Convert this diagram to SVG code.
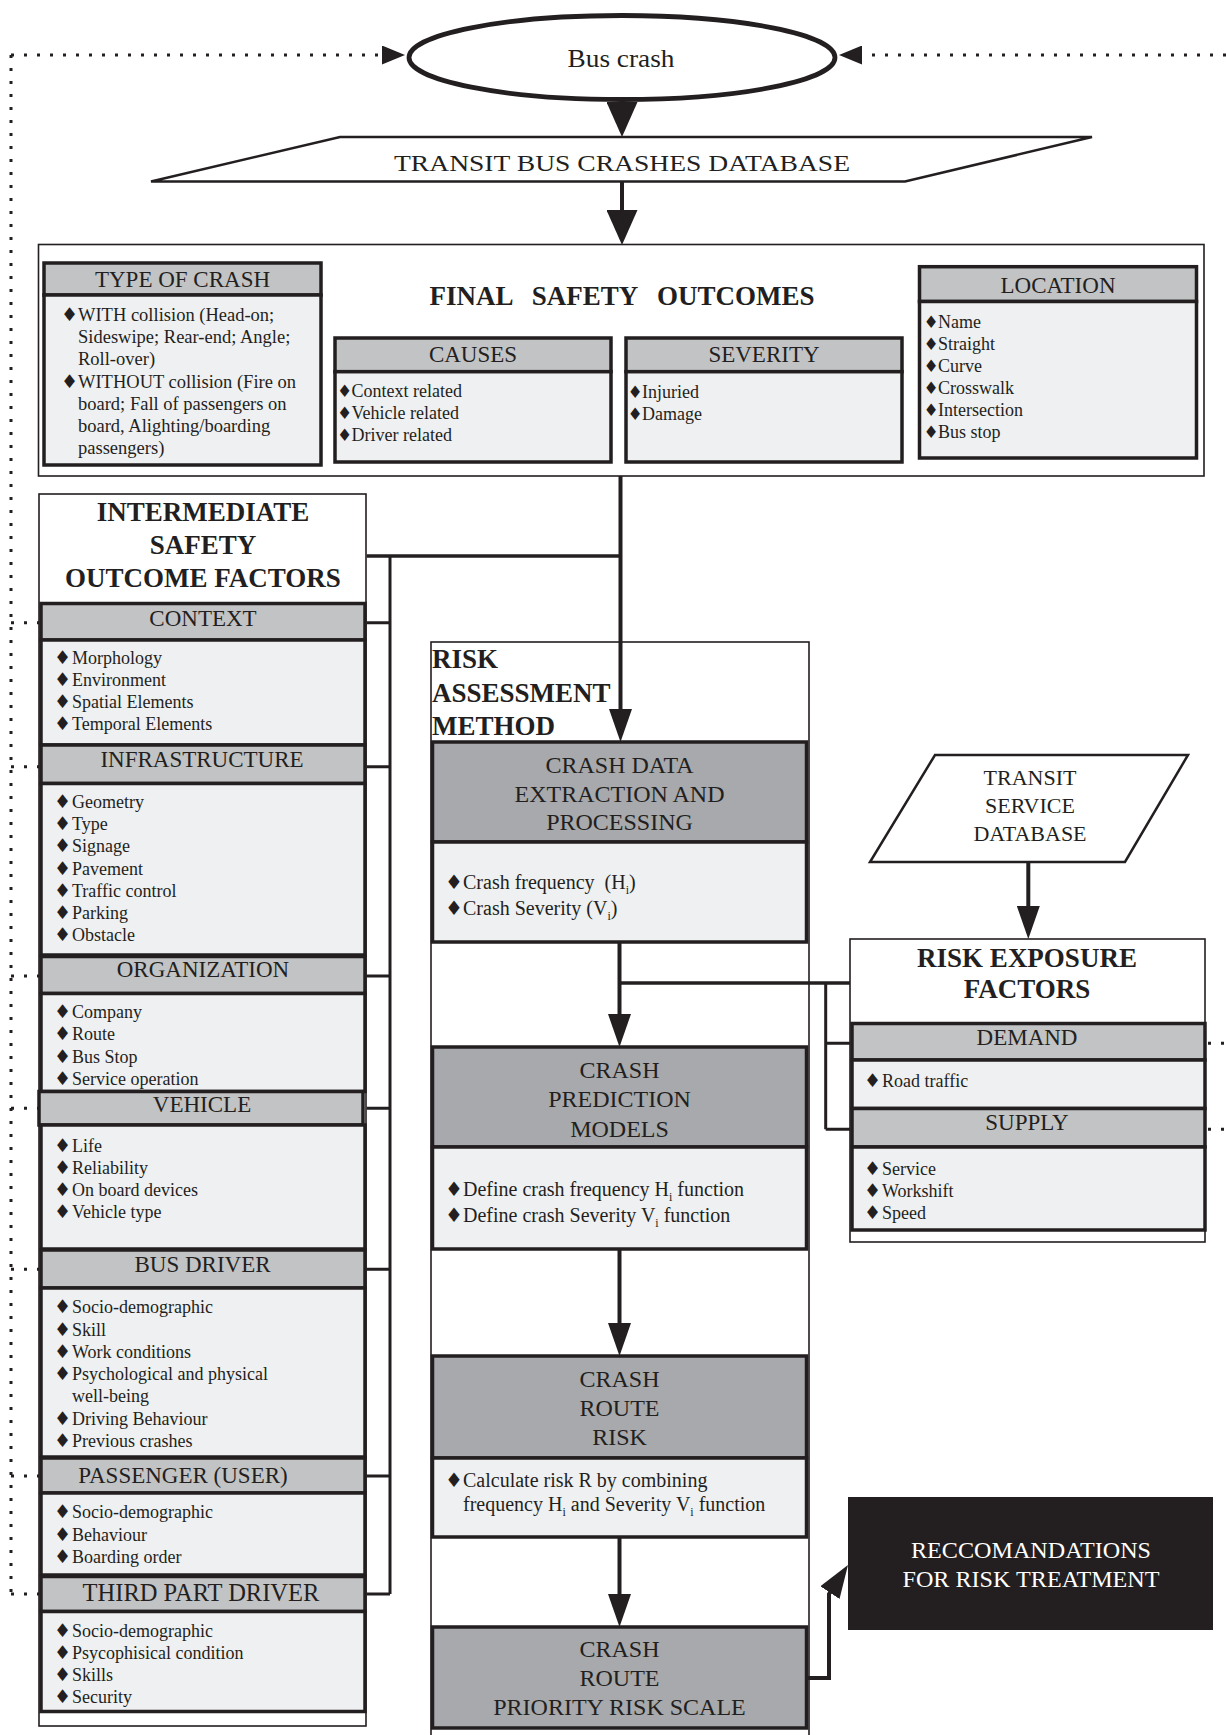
<svg xmlns="http://www.w3.org/2000/svg" width="1226" height="1735" viewBox="0 0 1226 1735">
<defs>
<style>
text{font-family:"Liberation Serif","DejaVu Serif",serif;fill:#231f20}
.ct{fill:#fff;stroke:#231f20;stroke-width:1.6}
.hd{fill:#c2c3c5;stroke:#231f20;stroke-width:3.5}
.bd{fill:#eff0f2;stroke:#231f20;stroke-width:3.5}
.dk{fill:#a7a9ac;stroke:#231f20;stroke-width:3.5}
.h{font-size:23px;text-anchor:middle}
.it{font-size:18px}
.tc{font-size:18.5px}
.dm{font-family:"DejaVu Sans",sans-serif;font-size:19px}
.dn{font-family:"DejaVu Sans",sans-serif;font-size:17px}
.sp{font-size:3px}
.ti{font-size:27px;font-weight:bold;text-anchor:middle}
.tl{font-size:27px;font-weight:bold}
.m{font-size:24px;text-anchor:middle}
.rb{font-size:20px}
.ln{fill:none;stroke:#231f20;stroke-width:4}
.br{fill:none;stroke:#231f20;stroke-width:3}
.dot{fill:none;stroke:#231f20;stroke-width:3;stroke-dasharray:3 10}
</style>
<marker id="big" markerUnits="userSpaceOnUse" viewBox="0 0 35 31" refX="27" refY="15.5" markerWidth="35" markerHeight="31" orient="auto"><path d="M0,0L35,15.5L0,31z" fill="#231f20"/></marker>
<marker id="std" markerUnits="userSpaceOnUse" viewBox="0 0 33 23" refX="25" refY="11.5" markerWidth="33" markerHeight="23" orient="auto"><path d="M0,0L33,11.5L0,23z" fill="#231f20"/></marker>
<marker id="sm" markerUnits="userSpaceOnUse" viewBox="0 0 23 19" refX="17" refY="9.5" markerWidth="23" markerHeight="19" orient="auto"><path d="M0,0L23,9.5L0,19z" fill="#231f20"/></marker>
</defs>
<rect width="1226" height="1735" fill="#fff"/>

<g id="bus-crash">
<ellipse cx="622" cy="57.5" rx="213" ry="42" fill="#fff" stroke="#231f20" stroke-width="4.8"/>
<text x="621" y="66.5" font-size="25" text-anchor="middle" textLength="107" lengthAdjust="spacingAndGlyphs">Bus crash</text>
</g>

<g id="transit-bus-crashes-database">
<polygon points="340,137 1092,137 905,181.5 151,181.5" fill="#fff" stroke="#231f20" stroke-width="2.5"/>
<text x="622" y="171" font-size="24" text-anchor="middle" textLength="456" lengthAdjust="spacingAndGlyphs">TRANSIT BUS CRASHES DATABASE</text>
</g>

<g id="final-safety-outcomes">
<rect class="ct" x="38.5" y="244.5" width="1165.5" height="231.5"/>
<text x="622" y="305" font-size="27" font-weight="bold" text-anchor="middle" word-spacing="13">FINAL SAFETY OUTCOMES</text>
<g id="type-of-crash">
<rect class="hd" x="44" y="263" width="277" height="32"/>
<rect class="bd" x="44" y="295" width="277" height="170"/>
<text class="h" x="182.5" y="287">TYPE OF CRASH</text>
<text class="tc" x="61" y="321"><tspan class="dm">♦</tspan><tspan class="sp"> </tspan><tspan x="78">WITH collision (Head-on;</tspan></text>
<text class="tc" x="78" y="343">Sideswipe; Rear-end; Angle;</text>
<text class="tc" x="78" y="365">Roll-over)</text>
<text class="tc" x="61" y="387.5"><tspan class="dm">♦</tspan><tspan class="sp"> </tspan><tspan x="78">WITHOUT collision (Fire on</tspan></text>
<text class="tc" x="78" y="410">board; Fall of passengers on</text>
<text class="tc" x="78" y="432">board, Alighting/boarding</text>
<text class="tc" x="78" y="454">passengers)</text>
</g>
<g id="causes">
<rect class="hd" x="335" y="338" width="276" height="33.7"/>
<rect class="bd" x="335" y="371.7" width="276" height="90.3"/>
<text class="h" x="473" y="362">CAUSES</text>
<text class="it" x="337" y="397"><tspan class="dn">♦</tspan><tspan x="351.5">Context related</tspan></text>
<text class="it" x="337" y="419"><tspan class="dn">♦</tspan><tspan x="351.5">Vehicle related</tspan></text>
<text class="it" x="337" y="441"><tspan class="dn">♦</tspan><tspan x="351.5">Driver related</tspan></text>
</g>
<g id="severity">
<rect class="hd" x="626" y="338" width="276" height="33.7"/>
<rect class="bd" x="626" y="371.7" width="276" height="90.3"/>
<text class="h" x="764" y="362">SEVERITY</text>
<text class="it" x="627.5" y="398"><tspan class="dn">♦</tspan><tspan x="642">Injuried</tspan></text>
<text class="it" x="627.5" y="420"><tspan class="dn">♦</tspan><tspan x="642">Damage</tspan></text>
</g>
<g id="location">
<rect class="hd" x="919.5" y="266.7" width="277" height="34.8"/>
<rect class="bd" x="919.5" y="301.5" width="277" height="156.5"/>
<text class="h" x="1058" y="293">LOCATION</text>
<text class="it" x="923.5" y="328"><tspan class="dn">♦</tspan><tspan x="938">Name</tspan></text>
<text class="it" x="923.5" y="350"><tspan class="dn">♦</tspan><tspan x="938">Straight</tspan></text>
<text class="it" x="923.5" y="372"><tspan class="dn">♦</tspan><tspan x="938">Curve</tspan></text>
<text class="it" x="923.5" y="394"><tspan class="dn">♦</tspan><tspan x="938">Crosswalk</tspan></text>
<text class="it" x="923.5" y="416"><tspan class="dn">♦</tspan><tspan x="938">Intersection</tspan></text>
<text class="it" x="923.5" y="438"><tspan class="dn">♦</tspan><tspan x="938">Bus stop</tspan></text>
</g>
</g>

<g id="intermediate-safety-outcome-factors">
<rect class="ct" x="39" y="494" width="327" height="1232"/>
<text class="ti" x="203" y="521">INTERMEDIATE</text>
<text class="ti" x="203" y="554">SAFETY</text>
<text class="ti" x="203" y="587">OUTCOME FACTORS</text>
<g id="context">
<rect class="hd" x="41" y="603.5" width="324" height="36.5"/>
<rect class="bd" x="41" y="640" width="324" height="105"/>
<text class="h" x="203" y="626">CONTEXT</text>
<text class="it" x="54" y="664"><tspan class="dm">♦</tspan><tspan class="sp"> </tspan><tspan x="72">Morphology</tspan></text>
<text class="it" x="54" y="686"><tspan class="dm">♦</tspan><tspan class="sp"> </tspan><tspan x="72">Environment</tspan></text>
<text class="it" x="54" y="708"><tspan class="dm">♦</tspan><tspan class="sp"> </tspan><tspan x="72">Spatial Elements</tspan></text>
<text class="it" x="54" y="730"><tspan class="dm">♦</tspan><tspan class="sp"> </tspan><tspan x="72">Temporal Elements</tspan></text>
</g>
<g id="infrastructure">
<rect class="hd" x="41" y="745" width="324" height="38.5"/>
<rect class="bd" x="41" y="783.5" width="324" height="171.5"/>
<text class="h" x="202" y="767">INFRASTRUCTURE</text>
<text class="it" x="54" y="808"><tspan class="dm">♦</tspan><tspan class="sp"> </tspan><tspan x="72">Geometry</tspan></text>
<text class="it" x="54" y="830"><tspan class="dm">♦</tspan><tspan class="sp"> </tspan><tspan x="72">Type</tspan></text>
<text class="it" x="54" y="852"><tspan class="dm">♦</tspan><tspan class="sp"> </tspan><tspan x="72">Signage</tspan></text>
<text class="it" x="54" y="874.5"><tspan class="dm">♦</tspan><tspan class="sp"> </tspan><tspan x="72">Pavement</tspan></text>
<text class="it" x="54" y="897"><tspan class="dm">♦</tspan><tspan class="sp"> </tspan><tspan x="72">Traffic control</tspan></text>
<text class="it" x="54" y="919"><tspan class="dm">♦</tspan><tspan class="sp"> </tspan><tspan x="72">Parking</tspan></text>
<text class="it" x="54" y="941"><tspan class="dm">♦</tspan><tspan class="sp"> </tspan><tspan x="72">Obstacle</tspan></text>
</g>
<g id="organization">
<rect class="hd" x="41" y="956.5" width="324" height="37"/>
<rect class="bd" x="41" y="993.5" width="324" height="98"/>
<text class="h" x="203" y="977">ORGANIZATION</text>
<text class="it" x="54" y="1018"><tspan class="dm">♦</tspan><tspan class="sp"> </tspan><tspan x="72">Company</tspan></text>
<text class="it" x="54" y="1040"><tspan class="dm">♦</tspan><tspan class="sp"> </tspan><tspan x="72">Route</tspan></text>
<text class="it" x="54" y="1062.5"><tspan class="dm">♦</tspan><tspan class="sp"> </tspan><tspan x="72">Bus Stop</tspan></text>
<text class="it" x="54" y="1085"><tspan class="dm">♦</tspan><tspan class="sp"> </tspan><tspan x="72">Service operation</tspan></text>
</g>
<g id="vehicle">
<rect class="hd" x="39" y="1091.5" width="324" height="33.5"/>
<rect class="bd" x="41" y="1125" width="324" height="124"/>
<text class="h" x="202" y="1112">VEHICLE</text>
<text class="it" x="54" y="1152"><tspan class="dm">♦</tspan><tspan class="sp"> </tspan><tspan x="72">Life</tspan></text>
<text class="it" x="54" y="1174"><tspan class="dm">♦</tspan><tspan class="sp"> </tspan><tspan x="72">Reliability</tspan></text>
<text class="it" x="54" y="1196"><tspan class="dm">♦</tspan><tspan class="sp"> </tspan><tspan x="72">On board devices</tspan></text>
<text class="it" x="54" y="1218"><tspan class="dm">♦</tspan><tspan class="sp"> </tspan><tspan x="72">Vehicle type</tspan></text>
</g>
<g id="bus-driver">
<rect class="hd" x="41" y="1250" width="324" height="38"/>
<rect class="bd" x="41" y="1288" width="324" height="169"/>
<text class="h" x="202.5" y="1272">BUS DRIVER</text>
<text class="it" x="54" y="1313"><tspan class="dm">♦</tspan><tspan class="sp"> </tspan><tspan x="72">Socio-demographic</tspan></text>
<text class="it" x="54" y="1335.5"><tspan class="dm">♦</tspan><tspan class="sp"> </tspan><tspan x="72">Skill</tspan></text>
<text class="it" x="54" y="1357.5"><tspan class="dm">♦</tspan><tspan class="sp"> </tspan><tspan x="72">Work conditions</tspan></text>
<text class="it" x="54" y="1380"><tspan class="dm">♦</tspan><tspan class="sp"> </tspan><tspan x="72">Psychological and physical</tspan></text>
<text class="it" x="72" y="1402">well-being</text>
<text class="it" x="54" y="1424.5"><tspan class="dm">♦</tspan><tspan class="sp"> </tspan><tspan x="72">Driving Behaviour</tspan></text>
<text class="it" x="54" y="1446.5"><tspan class="dm">♦</tspan><tspan class="sp"> </tspan><tspan x="72">Previous crashes</tspan></text>
</g>
<g id="passenger-user">
<rect class="hd" x="41" y="1458" width="324" height="35"/>
<rect class="bd" x="41" y="1493" width="324" height="82"/>
<text class="h" x="183" y="1483">PASSENGER (USER)</text>
<text class="it" x="54" y="1518"><tspan class="dm">♦</tspan><tspan class="sp"> </tspan><tspan x="72">Socio-demographic</tspan></text>
<text class="it" x="54" y="1540.5"><tspan class="dm">♦</tspan><tspan class="sp"> </tspan><tspan x="72">Behaviour</tspan></text>
<text class="it" x="54" y="1562.5"><tspan class="dm">♦</tspan><tspan class="sp"> </tspan><tspan x="72">Boarding order</tspan></text>
</g>
<g id="third-part-driver">
<rect class="hd" x="41" y="1576.5" width="324" height="35"/>
<rect class="bd" x="41" y="1611.5" width="324" height="100"/>
<text x="201" y="1601" font-size="24.5" text-anchor="middle">THIRD PART DRIVER</text>
<text class="it" x="54" y="1637"><tspan class="dm">♦</tspan><tspan class="sp"> </tspan><tspan x="72">Socio-demographic</tspan></text>
<text class="it" x="54" y="1659"><tspan class="dm">♦</tspan><tspan class="sp"> </tspan><tspan x="72">Psycophisical condition</tspan></text>
<text class="it" x="54" y="1681"><tspan class="dm">♦</tspan><tspan class="sp"> </tspan><tspan x="72">Skills</tspan></text>
<text class="it" x="54" y="1703"><tspan class="dm">♦</tspan><tspan class="sp"> </tspan><tspan x="72">Security</tspan></text>
</g>
</g>

<g id="risk-assessment-method">
<rect class="ct" x="431" y="642" width="378" height="1110"/>
<text class="tl" x="432" y="668">RISK</text>
<text class="tl" x="432" y="701.5">ASSESSMENT</text>
<text class="tl" x="432" y="734.5">METHOD</text>
<g id="crash-data-extraction">
<rect class="dk" x="432.5" y="742" width="374" height="100"/>
<rect class="bd" x="432.5" y="842" width="374" height="100"/>
<text class="m" x="619.5" y="773">CRASH DATA</text>
<text class="m" x="619.5" y="802">EXTRACTION AND</text>
<text class="m" x="619.5" y="830">PROCESSING</text>
<text class="rb" x="445" y="889"><tspan class="dm" style="font-size:20px">♦</tspan><tspan class="sp"> </tspan><tspan x="463">Crash frequency&#160; (H</tspan><tspan font-size="12" dy="5">i</tspan><tspan dy="-5">)</tspan></text>
<text class="rb" x="445" y="915"><tspan class="dm" style="font-size:20px">♦</tspan><tspan class="sp"> </tspan><tspan x="463">Crash Severity (V</tspan><tspan font-size="12" dy="5">i</tspan><tspan dy="-5">)</tspan></text>
</g>
<g id="crash-prediction-models">
<rect class="dk" x="432.5" y="1047" width="374" height="100"/>
<rect class="bd" x="432.5" y="1147" width="374" height="102"/>
<text class="m" x="619.5" y="1078">CRASH</text>
<text class="m" x="619.5" y="1107">PREDICTION</text>
<text class="m" x="619.5" y="1137">MODELS</text>
<text class="rb" x="445" y="1196"><tspan class="dm" style="font-size:20px">♦</tspan><tspan class="sp"> </tspan><tspan x="463">Define crash frequency H</tspan><tspan font-size="12" dy="5">i</tspan><tspan dy="-5"> function</tspan></text>
<text class="rb" x="445" y="1222"><tspan class="dm" style="font-size:20px">♦</tspan><tspan class="sp"> </tspan><tspan x="463">Define crash Severity V</tspan><tspan font-size="12" dy="5">i</tspan><tspan dy="-5"> function</tspan></text>
</g>
<g id="crash-route-risk">
<rect class="dk" x="432.5" y="1356" width="374" height="102"/>
<rect class="bd" x="432.5" y="1458" width="374" height="79"/>
<text class="m" x="619.5" y="1387">CRASH</text>
<text class="m" x="619.5" y="1416">ROUTE</text>
<text class="m" x="619.5" y="1445">RISK</text>
<text class="rb" x="445" y="1487"><tspan class="dm" style="font-size:20px">♦</tspan><tspan class="sp"> </tspan><tspan x="463">Calculate risk R by combining</tspan></text>
<text class="rb" x="463" y="1511">frequency H<tspan font-size="12" dy="5">i</tspan><tspan dy="-5"> and Severity V</tspan><tspan font-size="12" dy="5">i</tspan><tspan dy="-5"> function</tspan></text>
</g>
<g id="crash-route-priority-risk-scale">
<rect class="dk" x="432.5" y="1627" width="374" height="101"/>
<text class="m" x="619.5" y="1657">CRASH</text>
<text class="m" x="619.5" y="1686">ROUTE</text>
<text class="m" x="619.5" y="1715">PRIORITY RISK SCALE</text>
</g>
</g>

<g id="transit-service-database">
<polygon points="935,755 1188,755 1125,862 870,862" fill="#fff" stroke="#231f20" stroke-width="2.5"/>
<text x="1030" y="785" font-size="22" text-anchor="middle">TRANSIT</text>
<text x="1030" y="813" font-size="22" text-anchor="middle">SERVICE</text>
<text x="1030" y="841" font-size="22" text-anchor="middle">DATABASE</text>
</g>

<g id="risk-exposure-factors">
<rect class="ct" x="850" y="939" width="355" height="303"/>
<text class="ti" x="1027" y="967">RISK EXPOSURE</text>
<text class="ti" x="1027" y="998">FACTORS</text>
<g id="demand">
<rect class="hd" x="852" y="1023.5" width="353" height="36.5"/>
<rect class="bd" x="852" y="1060" width="353" height="48.5"/>
<text class="h" x="1027" y="1045">DEMAND</text>
<text class="it" x="864" y="1087"><tspan class="dm">♦</tspan><tspan class="sp"> </tspan><tspan x="882">Road traffic</tspan></text>
</g>
<g id="supply">
<rect class="hd" x="852" y="1108.5" width="353" height="38.5"/>
<rect class="bd" x="852" y="1147" width="353" height="83"/>
<text class="h" x="1027" y="1129.5">SUPPLY</text>
<text class="it" x="864" y="1175"><tspan class="dm">♦</tspan><tspan class="sp"> </tspan><tspan x="882">Service</tspan></text>
<text class="it" x="864" y="1197"><tspan class="dm">♦</tspan><tspan class="sp"> </tspan><tspan x="882">Workshift</tspan></text>
<text class="it" x="864" y="1218.5"><tspan class="dm">♦</tspan><tspan class="sp"> </tspan><tspan x="882">Speed</tspan></text>
</g>
</g>

<g id="reccomandations">
<rect x="848" y="1497" width="365" height="133" fill="#231f20"/>
<text x="1031" y="1558" font-size="23" text-anchor="middle" style="fill:#fff" textLength="240" lengthAdjust="spacingAndGlyphs">RECCOMANDATIONS</text>
<text x="1031" y="1587" font-size="23" text-anchor="middle" style="fill:#fff" textLength="257" lengthAdjust="spacingAndGlyphs">FOR RISK TREATMENT</text>
</g>

<g id="connectors">
<path class="ln" d="M622,99.5V129" marker-end="url(#big)"/>
<path class="ln" d="M622,182V237" marker-end="url(#big)"/>
<path class="ln" d="M620.5,476V734" marker-end="url(#std)"/>
<path class="br" d="M366.7,556H620.5" style="stroke-width:3.5"/>
<path class="br" d="M390,556V1594M366.7,622.7H390M366.7,766.7H390M366.7,976H390M366.7,1108.3H390M366.7,1269.3H390M366.7,1476H390M366.7,1594H390"/>
<path class="ln" d="M619.5,942V1039" marker-end="url(#std)"/>
<path class="br" d="M619.5,983H850" style="stroke-width:3.5"/>
<path class="br" d="M825.7,983V1129.3M825.7,1043.3H850M825.7,1129.3H850"/>
<path class="ln" d="M1028.3,862V931" marker-end="url(#std)"/>
<path class="ln" d="M619.5,1249V1348" marker-end="url(#std)"/>
<path class="ln" d="M619.5,1537V1619" marker-end="url(#std)"/>
<path class="ln" d="M808,1678H829V1594L843.6,1571.7" marker-end="url(#std)"/>
<path class="dot" d="M11,55H399" marker-end="url(#sm)"/>
<path class="dot" d="M1226,55H845" marker-end="url(#sm)"/>
<path class="dot" d="M11,55V1594"/>
<path class="dot" d="M11,622.7H39M11,766.7H39M11,976H39M11,1108.3H39M11,1269.3H39M11,1476H39M11,1594H39"/>
<path class="dot" d="M1208,1043.3H1226M1208,1129.3H1226"/>
</g>
</svg>
